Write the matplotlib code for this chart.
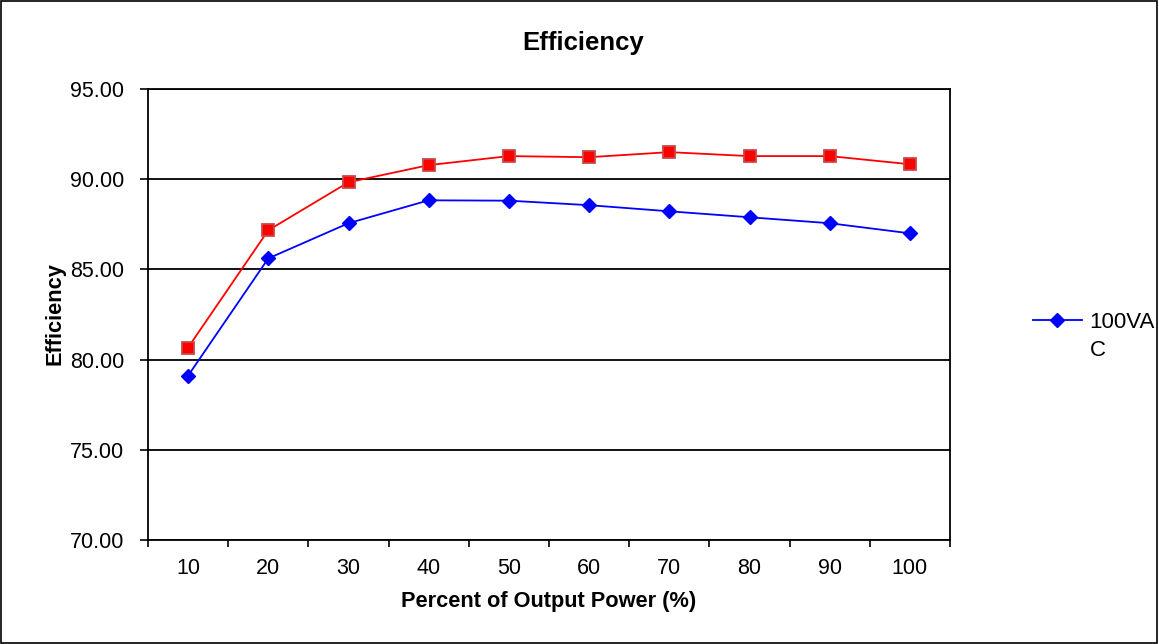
import matplotlib
matplotlib.use('Agg')
import matplotlib.pyplot as plt
import matplotlib.patches as mpatches
import numpy as np

plt.rcParams['font.family'] = ['Liberation Sans', 'DejaVu Sans']

# data
categories = ['10', '20', '30', '40', '50', '60', '70', '80', '90', '100']
eff_blue = [79.11, 85.61, 87.56, 88.83, 88.81, 88.56, 88.22, 87.89, 87.56, 87.00]
eff_red = [80.67, 87.17, 89.83, 90.78, 91.28, 91.22, 91.50, 91.28, 91.28, 90.83]
yticks = [70, 75, 80, 85, 90, 95]

W, H = 1159, 644
fig = plt.figure(figsize=(W / 100, H / 100), dpi=100)
ax = fig.add_axes([148 / W, 1 - 540 / H, (950 - 148) / W, (540 - 89) / H])

# outer border of the chart area
fig.patches.append(mpatches.Rectangle((0.001, 0.002), 0.997, 0.996, transform=fig.transFigure,
                                      fill=False, edgecolor='black', linewidth=1.2))

x = np.arange(1, len(categories) + 1)
ax.plot(x, eff_red, color='#ff0000', linewidth=1.3, marker='s', markersize=8.5,
        markerfacecolor='#ff0000', markeredgecolor='#c84848', markeredgewidth=1.3, zorder=3)
ax.plot(x, eff_blue, color='#0000ff', linewidth=1.3, marker='D', markersize=7.5,
        markerfacecolor='#0000ff', markeredgecolor='#0000ff', label='100VA', zorder=4)

ax.set_xlim(0.5, len(categories) + 0.5)
ax.set_ylim(70, 95)
ax.set_yticks(yticks)
ax.set_yticklabels(['%.2f' % v for v in yticks], fontsize=15.5)
ax.yaxis.grid(True, color='black', linewidth=1.3)
ax.set_axisbelow(True)

# category labels centred, tick marks between categories
ax.set_xticks(x)
ax.set_xticklabels(categories, fontsize=15.5)
ax.tick_params(axis='x', which='major', length=0, pad=13)
ax.set_xticks(np.arange(0.5, len(categories) + 1), minor=True)
ax.tick_params(axis='x', which='minor', length=5, width=1.2, direction='out')
ax.tick_params(axis='y', length=6, width=1.2, direction='out', pad=11)

for s in ax.spines.values():
    s.set_linewidth(1.3)

fig.text(583 / W, 1 - 43 / H, 'Efficiency', fontsize=18.5, fontweight='bold',
         ha='center', va='center')
fig.text(549 / W, 1 - 601 / H, 'Percent of Output Power (%)', fontsize=15.7,
         fontweight='bold', ha='center', va='center')
fig.text(55 / W, 1 - 314 / H, 'Efficiency', fontsize=15.7, fontweight='bold',
         ha='center', va='center', rotation=90)

ax.legend(loc='center left', bbox_to_anchor=(1033 / W, 1 - 322 / H),
          bbox_transform=fig.transFigure, frameon=False, fontsize=16,
          handlelength=2.2, handletextpad=0.35, borderpad=0, borderaxespad=0)
# the legend label wraps onto a second line in the original
fig.text(1090 / W, 1 - 350 / H, 'C', fontsize=16, ha='left', va='center')

fig.savefig('out.png', dpi=100)
